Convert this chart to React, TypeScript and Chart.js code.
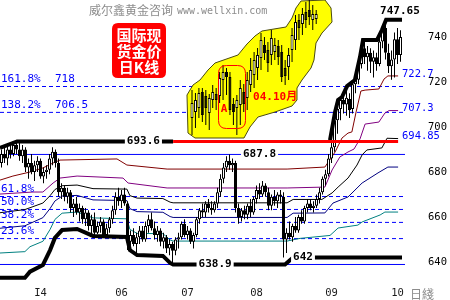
import { useEffect, useRef } from "react";
import { Chart, registerables } from "chart.js";

Chart.register(...registerables);

// ---- Daily gold spot, one entry per session ----
const dailyOpen = [
  684, 688, 686, 690, 688, 692, 690, 687, 690, 682,
  684, 680, 683, 685, 678, 680, 681, 686, 689, 684,
  671, 673, 669, 671, 664, 666, 662, 664, 659, 662,
  656, 659, 653, 656, 658, 652, 655, 659, 663, 669,
  667, 670, 666, 649, 652, 648, 651, 654, 650, 656,
  659, 655, 652, 654, 649, 651, 646, 648, 645, 650,
  651, 657, 652, 654, 649, 652, 659, 663, 662, 666,
  664, 663, 666, 671, 677, 682, 685, 683, 684, 664,
  660, 663, 661, 665, 662, 668, 672, 670, 674, 671,
  665, 669, 667, 670, 669, 650, 653, 651, 656, 654,
  660, 658, 664, 666, 664, 665, 668, 671, 677, 679,
  686, 691, 703, 708, 712, 710, 712.5, 708, 719, 721,
  728, 735, 731, 733, 729, 731, 728, 738, 744, 733,
  727, 730, 739, 732,
];
const dailyHigh = [
  690, 691, 692, 693, 693.5, 693.6, 693, 692, 691, 686,
  688, 685, 687, 686, 682, 683, 688, 691, 690, 686,
  675, 674, 673, 672, 668, 669, 666, 665, 664, 663,
  661, 662, 658, 660, 659, 657, 660, 665, 671, 673,
  672, 673, 667, 654, 655, 653, 656, 656, 658, 661,
  662, 658, 656, 655, 653, 652, 650, 649, 651, 653,
  658, 659, 656, 655, 653, 660, 664, 666, 667, 668,
  667, 667, 673, 679, 684, 687, 687.8, 686, 685, 666,
  664, 665, 666, 668, 669, 674, 675, 676, 675, 673,
  670, 672, 671, 672, 671, 655, 658, 657, 660, 661,
  663, 665, 668, 668, 667, 670, 673, 678, 681, 688,
  694, 706, 712, 713, 716, 716, 715, 720.5, 722, 730,
  738, 738, 736, 735, 734, 733, 740, 745, 747.65, 737,
  734, 742, 744, 743,
];
const dailyLow = [
  682, 684, 683, 686, 687, 688, 685, 684, 680, 677,
  679, 676, 680, 677, 675, 677, 679, 683, 682, 669,
  668, 667, 666, 662, 660, 661, 658, 657, 656, 654,
  651.6, 652, 652.5, 653, 651.5, 652, 653, 657, 661, 665,
  664, 665, 645.3, 646, 647, 643.1, 648, 649, 649, 653,
  654, 650, 649, 647, 646, 644, 643, 638.9, 643, 646,
  650, 651, 650, 648, 646, 651, 657, 660, 660, 662,
  661, 662, 664, 669, 675, 680, 681, 680, 662, 657,
  658, 659, 659, 660, 661, 666, 668, 669, 669, 663,
  663, 665, 664, 666, 642, 644, 650, 649, 653, 653,
  657, 657, 662, 663, 662, 664, 666, 670, 674, 678,
  684, 689, 697, 703, 706, 705, 704, 706, 715, 719,
  726, 728, 725, 724, 722, 725, 727, 735, 730, 724,
  721, 722, 728, 729,
];
const dailyClose = [
  688, 686, 690, 688, 692, 690, 687, 690, 682, 684,
  680, 683, 685, 678, 680, 681, 686, 689, 684, 671,
  673, 669, 671, 664, 666, 662, 664, 659, 662, 656,
  659, 653, 656, 658, 652, 655, 659, 663, 669, 667,
  670, 666, 649, 652, 648, 651, 654, 650, 656, 659,
  655, 652, 654, 649, 651, 646, 648, 645, 650, 651,
  657, 652, 654, 649, 652, 659, 663, 662, 666, 664,
  663, 666, 671, 677, 682, 685, 683, 684, 664, 660,
  663, 661, 665, 662, 668, 672, 670, 674, 671, 665,
  669, 667, 670, 669, 650, 653, 651, 656, 654, 660,
  658, 664, 666, 664, 665, 668, 671, 677, 679, 686,
  691, 703, 708, 712, 710, 713, 707.5, 719, 721, 728,
  735, 731, 733, 729, 731, 728, 738, 744, 733, 727,
  730, 739, 732, 740,
];

// ---- Price channel (session index, price) ----
const lowerBand: [number, number][] = [
  [-0.5, 633], [7.8, 633], [9.5, 635.7], [13.8, 638.7], [16.2, 645.3], [17.8, 650.7],
  [20.2, 654.2], [25.2, 654.7], [30.5, 651.6], [41.8, 651.1], [42.8, 645.3], [45.2, 643.1],
  [53.8, 642.7], [56.2, 639.6], [57.2, 638.9], [94.5, 638.9], [97.2, 642], [133.5, 642],
];
const upperBandEarly: [number, number][] = [[-0.5, 690.7], [5.2, 693.6], [57.2, 693.6]];
const upperBandLate: [number, number][] = [
  [109.5, 694.2], [111.2, 706.7], [112.2, 712], [113.5, 713.3], [115.2, 718.2], [117.8, 720.9],
  [119.5, 731.1], [120.5, 738.7], [125.2, 738.7], [126.8, 743.1], [128.2, 747.65], [133.5, 747.65],
];
const band764: [number, number][] = [
  [-0.5, 676.4], [3.8, 678.2], [9.5, 680], [13.8, 681.8], [17.2, 684], [19.5, 685.3],
  [38.5, 685.8], [41.8, 683.1], [55.2, 681.3], [95.2, 681.3], [107.8, 682.2], [111.2, 688.9],
  [113.5, 695.1], [115.5, 697.3], [116.8, 697.8], [118.2, 706.7], [119.8, 716], [121.2, 716.4],
  [125.8, 716.9], [127.5, 721.3], [128.8, 722.7], [132.2, 722.7],
];
const band618: [number, number][] = [
  [-0.5, 670.2], [10.5, 671.1], [13.8, 671.1], [17.2, 675.1], [19.5, 677.3], [25.2, 678.2],
  [40.5, 677.3], [42.2, 675.1], [55.2, 672.9], [95.2, 672.9], [107.8, 673.3], [110.2, 680.9],
  [112.8, 686.7], [115.5, 688.9], [117.5, 690.2], [119.5, 694.7], [121.2, 701.3], [125.8, 702.2],
  [127.8, 706.2], [129.2, 707.3], [132.2, 707.3],
];
const band500: [number, number][] = [
  [-0.5, 661.9], [7.8, 663.3], [13.8, 666.2], [16.2, 669.5], [17.8, 672.2], [20.2, 673.9],
  [25.2, 674.2], [30.5, 672.6], [41.8, 672.4], [42.8, 669.5], [45.2, 668.4], [53.8, 668.2],
  [56.2, 666.6], [57.2, 666.3], [95.2, 666.3], [97.2, 667.8], [106.8, 667.8], [110.2, 670.7],
  [112.2, 673.3], [115.5, 677.3], [118.5, 683.1], [120.2, 687.6], [121.8, 689.8], [126.8, 690.7],
  [128.5, 695], [132.2, 694.85],
];
const band382: [number, number][] = [
  [-0.5, 655], [7.8, 656.1], [13.8, 659.7], [16.2, 663.8], [17.8, 667.1], [20.2, 669.3],
  [25.2, 669.6], [30.5, 667.6], [41.8, 667.3], [42.8, 663.7], [45.2, 662.4], [53.8, 662.1],
  [56.2, 660.2], [57.2, 659.8], [95.2, 659.8], [97.2, 661.7], [107.8, 661.8], [110.5, 666.2],
  [115.5, 668.9], [120.2, 675.1], [125.5, 679.6], [128.8, 682.2], [132.2, 682.2],
];
const band191: [number, number][] = [
  [-0.5, 644], [7.8, 644.6], [9.5, 646.8], [13.8, 649.2], [16.2, 654.5], [17.8, 658.9],
  [20.2, 661.7], [25.2, 662.2], [30.5, 659.6], [41.8, 659.2], [42.8, 654.5], [45.2, 652.7],
  [53.8, 652.6], [56.2, 649.8], [57.2, 649.3], [95.2, 649.3], [99.5, 650.5], [109.5, 651.8],
  [112.2, 655.1], [118.8, 656.4], [120.2, 657.8], [126.2, 660.9], [127.8, 662.2], [132.2, 662.2],
];

// ---- Fibonacci levels of the 638.9 - 687.8 swing ----
const swingLow = 638.9;
const swingHigh = 687.8;
const resistance = 693.6;
const fibRatios = ["161.8%", "138.2%", "61.8%", "50.0%", "38.2%", "23.6%"];
const fibPrices = [718, 706.5, 669.1, 663.35, 657.6, 650.4];
const bandEnds = [722.7, 707.3, 694.85];
const peakPrice = 747.65;
const latestLow = 642;

// ---- Axis labels ----
const monthTicks = [13, 40, 62, 85, 110, 132];
const monthLabels = ["I4", "06", "07", "08", "09", "10"];
const priceTicks = [640, 660, 680, 700, 720, 740];

// ---- Inset: the 2004 advance (Apr - Oct) ----
const insetOpen = [
  392.8, 395.2, 396.8, 403.2, 401.6, 394.8, 400, 402.4, 401.6, 408, 411.2, 409.2, 398.4,
  396.8, 398, 403.2, 400.8, 406, 410, 412.8, 416.8, 422, 420, 418, 419.2, 421.6, 419.2,
  412.8, 413.2, 420, 424, 432, 430.4, 435.2, 436, 432, 432.4,
];
const insetHigh = [
  404, 402.8, 404.8, 404.8, 404, 402.4, 406, 404.8, 411.2, 414, 412.8, 411.2, 400.8,
  402, 408, 406.4, 411.2, 416.8, 419.2, 420.8, 426.8, 425.2, 423.2, 428, 424.8, 424, 422,
  416, 420.8, 428.8, 434, 434.4, 436.8, 439.2, 440, 438, 436,
];
const insetLow = [
  386, 388.8, 392.8, 391.2, 390, 388, 396.8, 396, 398.8, 400, 402, 394, 390,
  386, 390, 395.2, 396, 403.2, 404.8, 408, 412, 416, 411.2, 414, 416, 414, 407.2,
  406, 408, 415.2, 420, 424, 426, 428.8, 430, 428, 430.4,
];
const insetClose = [
  398.8, 400, 402.8, 394, 396.8, 400.8, 403.2, 400, 408.8, 411.2, 409.2, 396, 395.2,
  400, 404.8, 398.4, 408, 412, 416, 418, 424, 418.8, 414.8, 424.8, 422, 417.2, 409.2,
  409.6, 418, 426, 431.2, 428.8, 434.4, 432, 433.2, 434.4, 434.4,
];
// highlighted region around the inset, in inset (index, price) units
const insetOutline: [number, number][] = [
  [-1.16, 386.8], [-1.45, 402], [0.29, 406], [2.32, 408], [4.64, 412], [6.67, 414.8],
  [13.33, 418], [15.94, 422.4], [18.26, 425.6], [20.29, 427.6], [27.25, 429.2], [28.99, 432.8],
  [30.14, 436.8], [31.59, 439.6], [38.55, 440], [40.29, 436.8], [40.58, 431.2], [37.68, 426.8],
  [35.94, 422.8], [35.36, 416], [34.49, 412.8], [31.88, 408], [30.43, 404.8], [30.43, 400],
  [28.99, 397.6], [24.06, 395.2], [19.13, 393.2], [16.81, 389.2], [15.07, 384.8], [0.87, 384.8],
];
// "A" marker box (inset index range, price range)
const markerSpan = { from: 7.54, to: 15.36, low: 388.8, high: 414 };

const MONO = "'DejaVu Sans Mono', 'Liberation Mono', monospace";
const CJK = "'Noto Sans CJK SC', 'Noto Sans', sans-serif";

const pts = (arr: [number, number][]) => arr.map(([x, y]) => ({ x, y }));
const hLine = (v: number, from: number, to: number) => [{ x: from, y: v }, { x: to, y: v }];

function roundRect(ctx: CanvasRenderingContext2D, x: number, y: number, w: number, h: number, r: number) {
  ctx.beginPath();
  ctx.moveTo(x + r, y);
  ctx.lineTo(x + w - r, y);
  ctx.quadraticCurveTo(x + w, y, x + w, y + r);
  ctx.lineTo(x + w, y + h - r);
  ctx.quadraticCurveTo(x + w, y + h, x + w - r, y + h);
  ctx.lineTo(x + r, y + h);
  ctx.quadraticCurveTo(x, y + h, x, y + h - r);
  ctx.lineTo(x, y + r);
  ctx.quadraticCurveTo(x, y, x + r, y);
  ctx.closePath();
}

// yellow highlight painted just before the inset candles
const insetShade = {
  id: "insetShade",
  beforeDatasetDraw(chart: any, args: any) {
    if (chart.data.datasets[args.index].label !== "insetWick") return;
    const xs = chart.scales.xi;
    const ys = chart.scales.yi;
    const ctx = chart.ctx as CanvasRenderingContext2D;
    ctx.save();
    ctx.beginPath();
    insetOutline.forEach(([i, p], k) => {
      const px = xs.getPixelForValue(i);
      const py = ys.getPixelForValue(p);
      if (k === 0) ctx.moveTo(px, py);
      else ctx.lineTo(px, py);
    });
    ctx.closePath();
    ctx.fillStyle = "#ffff00";
    ctx.fill();
    ctx.strokeStyle = "#4a4a10";
    ctx.lineWidth = 1;
    ctx.stroke();
    ctx.restore();
  },
};

const chartNotes = {
  id: "chartNotes",
  afterDatasetsDraw(chart: any) {
    const ctx = chart.ctx as CanvasRenderingContext2D;
    const area = chart.chartArea;
    const xs = chart.scales.x;
    const ys = chart.scales.y;
    const xi = chart.scales.xi;
    const yi = chart.scales.yi;
    ctx.save();

    // watermark
    ctx.textBaseline = "middle";
    ctx.textAlign = "left";
    ctx.fillStyle = "#8c8c8c";
    ctx.font = `12px ${CJK}`;
    ctx.fillText("威尔鑫黄金咨询", 89, 10);
    ctx.font = `10px ${MONO}`;
    ctx.fillText("www.wellxin.com", 177, 11);

    // title badge
    roundRect(ctx, 112, 23, 54, 55, 6);
    ctx.fillStyle = "#ff0000";
    ctx.fill();
    ctx.fillStyle = "#ffffff";
    ctx.textAlign = "center";
    ctx.font = `bold 15px ${CJK}`;
    ["国际现", "货金价", "日K线"].forEach((t, k) => ctx.fillText(t, 139, 35 + k * 16));

    // fibonacci level captions
    ctx.textAlign = "left";
    ctx.fillStyle = "#0000ff";
    ctx.font = `11px ${MONO}`;
    fibRatios.forEach((r, k) => {
      const py = ys.getPixelForValue(fibPrices[k]) - 7;
      ctx.fillText(r, area.left + 1, py);
      if (k < 2) ctx.fillText(String(fibPrices[k]), area.left + 55, py);
    });

    // channel end values
    ctx.font = `10.5px ${MONO}`;
    bandEnds.forEach((v) => ctx.fillText(String(v), area.right - 3, ys.getPixelForValue(v) - 2));

    // boxed price callouts
    ctx.font = `bold 11px ${MONO}`;
    ctx.textAlign = "center";
    const boxed: [number, number][] = [
      [resistance, 47.3],
      [swingHigh, 86],
      [swingLow, 71.2],
      [latestLow, 100.5],
    ];
    boxed.forEach(([v, at]) => {
      const t = String(v);
      const px = xs.getPixelForValue(at);
      const py = ys.getPixelForValue(v);
      const w = ctx.measureText(t).width + 4;
      ctx.fillStyle = "#ffffff";
      ctx.fillRect(px - w / 2, py - 6, w, 12);
      ctx.fillStyle = "#000000";
      ctx.fillText(t, px, py);
    });
    ctx.fillText(String(peakPrice), xs.getPixelForValue(132.8), ys.getPixelForValue(peakPrice) - 9);

    // inset marker and caption
    const mx0 = xi.getPixelForValue(markerSpan.from);
    const mx1 = xi.getPixelForValue(markerSpan.to);
    const my0 = yi.getPixelForValue(markerSpan.high);
    const my1 = yi.getPixelForValue(markerSpan.low);
    roundRect(ctx, mx0 + 0.5, my0 + 0.5, mx1 - mx0, my1 - my0, 8);
    ctx.strokeStyle = "#ff0000";
    ctx.lineWidth = 1;
    ctx.stroke();
    ctx.fillStyle = "#ff0000";
    ctx.font = `bold 11px ${MONO}`;
    ctx.fillText("A", xi.getPixelForValue(9.3), yi.getPixelForValue(396.4));
    ctx.textAlign = "left";
    ctx.font = `bold 11px ${MONO}, ${CJK}`;
    ctx.fillText("04.10月", xi.getPixelForValue(17.7), yi.getPixelForValue(401.2));

    // period caption beside the month axis
    ctx.fillStyle = "#8c8c8c";
    ctx.font = `12px ${CJK}`;
    ctx.fillText("日綫", area.right + 5, 294);
    ctx.restore();
  },
};

export default function App() {
  const ref = useRef<HTMLCanvasElement>(null);

  useEffect(() => {
    const canvas = ref.current;
    if (!canvas) return;
    const n = dailyOpen.length;
    const sessions = dailyOpen.map((_, i) => i);
    const insetIdx = insetOpen.map((_, i) => i);
    const left = -0.5;
    const right = n + 0.5;

    const lineBase = { type: "line" as const, pointRadius: 0, tension: 0, fill: false };
    const datasets: any[] = [
      // reference levels
      ...fibPrices.map((v) => ({
        ...lineBase, order: 10, data: hLine(v, left, right), borderColor: "#0000ff", borderWidth: 1, borderDash: [4, 3],
      })),
      { ...lineBase, order: 10, data: hLine(swingHigh, left, right), borderColor: "#0000ff", borderWidth: 1 },
      { ...lineBase, order: 10, data: hLine(swingLow, left, right), borderColor: "#0000ff", borderWidth: 1 },
      // channel subdivisions
      { ...lineBase, order: 9, data: pts(band764), borderColor: "#800000", borderWidth: 1 },
      { ...lineBase, order: 9, data: pts(band618), borderColor: "#800080", borderWidth: 1 },
      { ...lineBase, order: 9, data: pts(band500), borderColor: "#000000", borderWidth: 1 },
      { ...lineBase, order: 9, data: pts(band382), borderColor: "#000080", borderWidth: 1 },
      { ...lineBase, order: 9, data: pts(band191), borderColor: "#008080", borderWidth: 1 },
      // candles
      {
        type: "bar", label: "wick", order: 8, grouped: false, barThickness: 1, inflateAmount: 0,
        data: sessions.map((i) => ({ x: i, y: [dailyLow[i], dailyHigh[i]] })),
        backgroundColor: "#000000", borderWidth: 0,
      },
      {
        type: "bar", label: "body", order: 7, grouped: false, barThickness: 3, inflateAmount: 0,
        data: sessions.map((i) => ({ x: i, y: [dailyOpen[i], dailyClose[i]] })),
        backgroundColor: sessions.map((i) => (dailyClose[i] >= dailyOpen[i] ? "#ffffff" : "#000000")),
        borderColor: "#000000", borderWidth: 1, borderSkipped: false,
      },
      // channel bounds
      { ...lineBase, order: 6, data: pts(lowerBand), borderColor: "#000000", borderWidth: 4 },
      { ...lineBase, order: 6, data: pts(upperBandEarly), borderColor: "#000000", borderWidth: 4 },
      { ...lineBase, order: 6, data: pts(upperBandLate), borderColor: "#000000", borderWidth: 4 },
      { ...lineBase, order: 5, data: hLine(resistance, 57.2, 132.2), borderColor: "#ff0000", borderWidth: 3 },
      // inset candles
      {
        type: "bar", label: "insetWick", order: 4, grouped: false, barThickness: 1, inflateAmount: 0,
        xAxisID: "xi", yAxisID: "yi",
        data: insetIdx.map((i) => ({ x: i, y: [insetLow[i], insetHigh[i]] })),
        backgroundColor: "#000000", borderWidth: 0,
      },
      {
        type: "bar", label: "insetBody", order: 3, grouped: false, barThickness: 3, inflateAmount: 0,
        xAxisID: "xi", yAxisID: "yi",
        data: insetIdx.map((i) => ({ x: i, y: [insetOpen[i], insetClose[i]] })),
        backgroundColor: insetIdx.map((i) => (insetClose[i] >= insetOpen[i] ? "#ffffff" : "#000000")),
        borderColor: "#000000", borderWidth: 1, borderSkipped: false,
      },
    ];

    const chart = new Chart(canvas, {
      type: "bar",
      data: { datasets },
      options: {
        responsive: false,
        animation: false,
        devicePixelRatio: 1,
        events: [],
        layout: { padding: 0 },
        plugins: { legend: { display: false }, tooltip: { enabled: false }, title: { display: false } },
        scales: {
          x: {
            type: "linear",
            min: left,
            max: n - 0.5 + 1,
            offset: false,
            grid: { display: false, drawTicks: false },
            border: { display: false },
            ticks: {
              autoSkip: false,
              maxRotation: 0,
              padding: 4,
              color: "#1a1a1a",
              font: { family: MONO, size: 10.5 },
              callback: (_v: any, i: number) => monthLabels[i],
            },
            afterBuildTicks: (s: any) => {
              s.ticks = monthTicks.map((v) => ({ value: v }));
            },
            afterFit: (s: any) => {
              s.height = 17;
              s.paddingLeft = 0;
              s.paddingRight = 0;
            },
          },
          y: {
            type: "linear",
            position: "right",
            min: 740 - (283 - 37) / 2.25,
            max: 740 + 37 / 2.25,
            beginAtZero: false,
            grid: { display: false, drawTicks: false },
            border: { display: false },
            ticks: { padding: 23, color: "#000000", font: { family: MONO, size: 10.5 } },
            afterBuildTicks: (s: any) => {
              s.ticks = priceTicks.map((v) => ({ value: v }));
            },
            afterFit: (s: any) => {
              s.width = 45;
              s.paddingTop = 0;
              s.paddingBottom = 0;
            },
          },
          xi: { type: "linear", display: false, offset: false, min: -192 / 3.45, max: (405 - 192) / 3.45 },
          yi: { type: "linear", display: false, beginAtZero: false, min: 440 - 283 * 0.4, max: 440 },
        },
      },
      plugins: [insetShade, chartNotes],
    } as any);

    return () => chart.destroy();
  }, []);

  return (
    <div style={{ position: "fixed", left: 0, top: 0, width: 450, height: 300, background: "#ffffff" }}>
      <canvas ref={ref} width={450} height={300} style={{ display: "block", width: 450, height: 300 }} />
    </div>
  );
}
